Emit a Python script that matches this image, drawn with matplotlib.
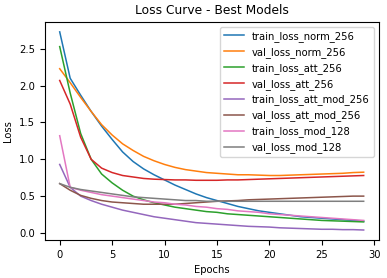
import matplotlib
matplotlib.use("Agg")
import matplotlib.pyplot as plt

epochs = list(range(30))
train_loss_norm_256 = [2.73, 2.1, 1.87, 1.65, 1.45, 1.27, 1.1, 0.97, 0.87, 0.79, 0.72, 0.65, 0.59, 0.53, 0.48,
                       0.44, 0.40, 0.36, 0.33, 0.30, 0.28, 0.26, 0.24, 0.22, 0.21, 0.20, 0.19, 0.18, 0.17, 0.16]
val_loss_norm_256 = [2.23, 2.04, 1.84, 1.65, 1.47, 1.33, 1.21, 1.12, 1.04, 0.98, 0.93, 0.89, 0.86, 0.84, 0.82,
                     0.81, 0.80, 0.79, 0.79, 0.785, 0.78, 0.78, 0.785, 0.79, 0.795, 0.80, 0.805, 0.81, 0.82, 0.825]
train_loss_att_256 = [2.53, 1.9, 1.35, 1.0, 0.8, 0.68, 0.58, 0.5, 0.45, 0.41, 0.38, 0.35, 0.33, 0.31, 0.29,
                      0.28, 0.26, 0.25, 0.24, 0.23, 0.22, 0.21, 0.2, 0.19, 0.18, 0.17, 0.165, 0.16, 0.155, 0.15]
val_loss_att_256 = [2.07, 1.75, 1.3, 1.0, 0.88, 0.82, 0.78, 0.76, 0.74, 0.73, 0.725, 0.72, 0.72, 0.715, 0.715,
                    0.715, 0.72, 0.72, 0.725, 0.73, 0.735, 0.74, 0.745, 0.75, 0.755, 0.76, 0.765, 0.77, 0.775, 0.78]
train_loss_att_mod_256 = [0.93, 0.62, 0.5, 0.44, 0.39, 0.35, 0.31, 0.28, 0.25, 0.22, 0.2, 0.18, 0.16, 0.14, 0.13,
                          0.12, 0.11, 0.1, 0.09, 0.085, 0.08, 0.07, 0.065, 0.06, 0.055, 0.05, 0.05, 0.045, 0.045, 0.04]
val_loss_att_mod_256 = [0.67, 0.58, 0.51, 0.47, 0.44, 0.42, 0.41, 0.40, 0.39, 0.39, 0.39, 0.39, 0.40, 0.41, 0.42,
                        0.43, 0.435, 0.44, 0.45, 0.455, 0.46, 0.465, 0.47, 0.475, 0.48, 0.485, 0.49, 0.495, 0.50, 0.50]
train_loss_mod_128 = [1.32, 0.62, 0.58, 0.55, 0.52, 0.5, 0.48, 0.46, 0.44, 0.42, 0.41, 0.39, 0.38, 0.36, 0.35,
                      0.33, 0.32, 0.30, 0.29, 0.28, 0.26, 0.25, 0.24, 0.23, 0.22, 0.21, 0.20, 0.19, 0.18, 0.17]
val_loss_mod_128 = [0.67, 0.62, 0.59, 0.57, 0.55, 0.53, 0.51, 0.49, 0.48, 0.47, 0.46, 0.45, 0.44, 0.44, 0.43,
                    0.43, 0.43, 0.43, 0.43, 0.43, 0.43, 0.43, 0.43, 0.43, 0.43, 0.43, 0.43, 0.43, 0.43, 0.43]

series = [
    ("train_loss_norm_256", train_loss_norm_256),
    ("val_loss_norm_256", val_loss_norm_256),
    ("train_loss_att_256", train_loss_att_256),
    ("val_loss_att_256", val_loss_att_256),
    ("train_loss_att_mod_256", train_loss_att_mod_256),
    ("val_loss_att_mod_256", val_loss_att_mod_256),
    ("train_loss_mod_128", train_loss_mod_128),
    ("val_loss_mod_128", val_loss_mod_128),
]

plt.rcParams['font.size'] = 7.2
fig = plt.figure(figsize=(3.87, 2.78), dpi=100)
ax = fig.add_axes([0.115, 0.137, 0.864, 0.784])
for name, vals in series:
    ax.plot(epochs, vals, label=name, linewidth=1.1)
ax.set_title("Loss Curve - Best Models", fontsize=8.8)
ax.set_xlabel("Epochs")
ax.set_ylabel("Loss")
ax.set_xticks([0, 5, 10, 15, 20, 25, 30])
ax.set_yticks([0.0, 0.5, 1.0, 1.5, 2.0, 2.5])
ax.legend(loc="upper right")
fig.savefig("out.png", dpi=100)
